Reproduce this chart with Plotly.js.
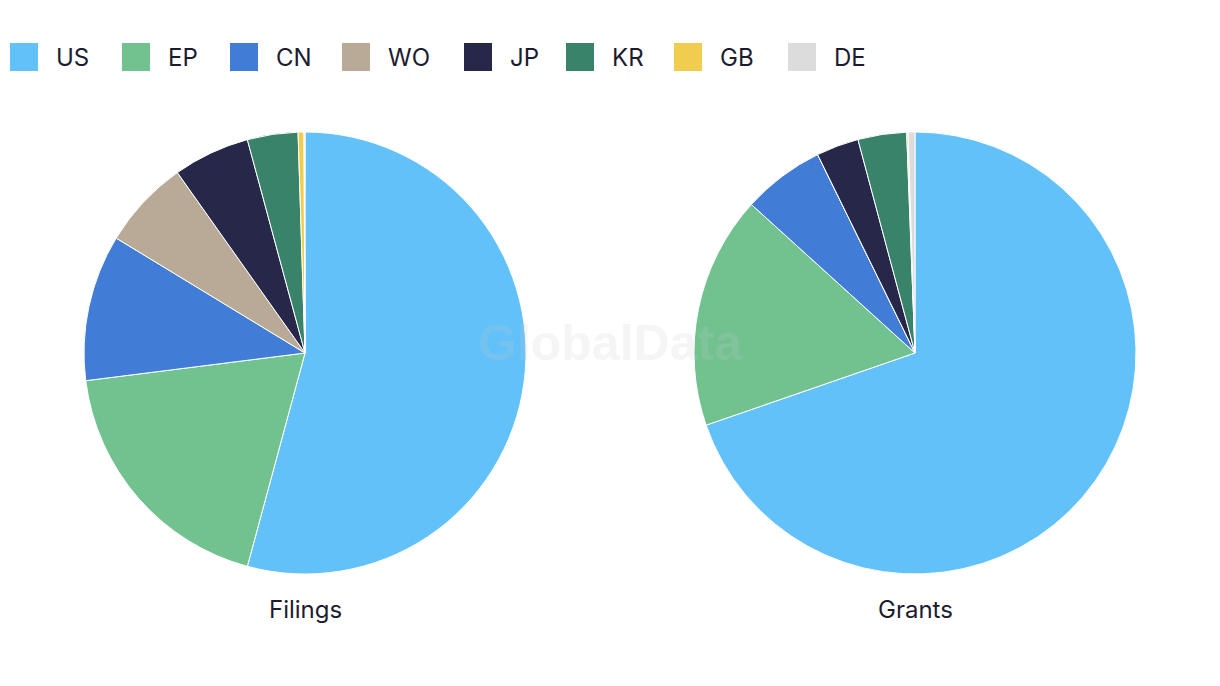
<!DOCTYPE html>
<html>
<head>
<meta charset="utf-8">
<script src="https://cdn.plot.ly/plotly-3.0.1.min.js"></script>
<style>
  html, body { margin: 0; padding: 0; background: #fff; }
  #chart { width: 1220px; height: 686px; }
</style>
</head>
<body>
<div id="chart"></div>
<script>
// ---- data ----
const labels = ['US', 'EP', 'CN', 'WO', 'JP', 'KR', 'GB', 'DE'];
const filings = [54.2, 18.8, 10.7, 6.5, 5.6, 3.7, 0.43, 0.07];
const grants = [69.6, 17.0, 6.0, 0, 3.1, 3.55, 0.1, 0.5];
const pieTitles = ['Filings', 'Grants'];
const colors = ['#62c1f9', '#72c290', '#417dd6', '#b8aa96', '#27274a', '#3a836b', '#f1cd4f', '#dcdcdc'];

// ---- layout constants ----
const W = 1220, H = 686;
const textColor = '#1c1c30';
const fontFamily = 'Inter, "Noto Sans", Roboto, sans-serif';
const legendSwatchX = [10, 122, 230, 342, 464, 566, 674, 788]; // px
const swatchSize = 28, swatchTop = 43, legendTextGap = 16, legendFont = 24;
const pieDomainsX = [[0, 0.5], [0.5, 1]];
const pieDomainY = [1 - 574 / H, 1 - 132 / H];
const pieTitleY = 609;

const series = [filings, grants];
const traces = series.map((vals, i) => ({
  type: 'pie',
  labels: labels,
  values: vals,
  sort: false,
  direction: 'clockwise',
  rotation: 0,
  textinfo: 'none',
  hoverinfo: 'label+percent',
  marker: { colors: colors, line: { color: '#ffffff', width: 1 } },
  domain: { x: pieDomainsX[i], y: pieDomainY },
  showlegend: false
}));

const shapes = labels.map((lab, i) => ({
  type: 'rect', xref: 'paper', yref: 'paper',
  x0: legendSwatchX[i] / W, x1: (legendSwatchX[i] + swatchSize) / W,
  y0: 1 - (swatchTop + swatchSize) / H, y1: 1 - swatchTop / H,
  fillcolor: colors[i], line: { width: 0 }
}));

const annotations = labels.map((lab, i) => ({
  xref: 'paper', yref: 'paper',
  x: (legendSwatchX[i] + swatchSize + legendTextGap) / W,
  y: 1 - (swatchTop + swatchSize / 2) / H,
  xanchor: 'left', yanchor: 'middle',
  text: lab, showarrow: false,
  font: { family: fontFamily, size: legendFont, color: textColor }
}));

pieTitles.forEach((t, i) => {
  annotations.push({
    xref: 'paper', yref: 'paper',
    x: (pieDomainsX[i][0] + pieDomainsX[i][1]) / 2,
    y: 1 - pieTitleY / H,
    xanchor: 'center', yanchor: 'middle',
    text: t, showarrow: false,
    font: { family: fontFamily, size: 24, color: textColor }
  });
});

// watermark
annotations.push({
  xref: 'paper', yref: 'paper', x: 0.5, y: 1 - 343 / H,
  xanchor: 'center', yanchor: 'middle',
  text: '<b>GlobalData</b>', showarrow: false,
  font: { family: 'Liberation Sans, Arial, sans-serif', size: 50, color: 'rgba(200,200,200,0.18)' }
});

const layout = {
  width: W, height: H,
  margin: { l: 0, r: 0, t: 0, b: 0 },
  paper_bgcolor: '#ffffff',
  plot_bgcolor: '#ffffff',
  showlegend: false,
  shapes: shapes,
  annotations: annotations,
  font: { family: fontFamily, color: textColor }
};

Plotly.newPlot('chart', traces, layout, { displayModeBar: false, staticPlot: true });
</script>
</body>
</html>
